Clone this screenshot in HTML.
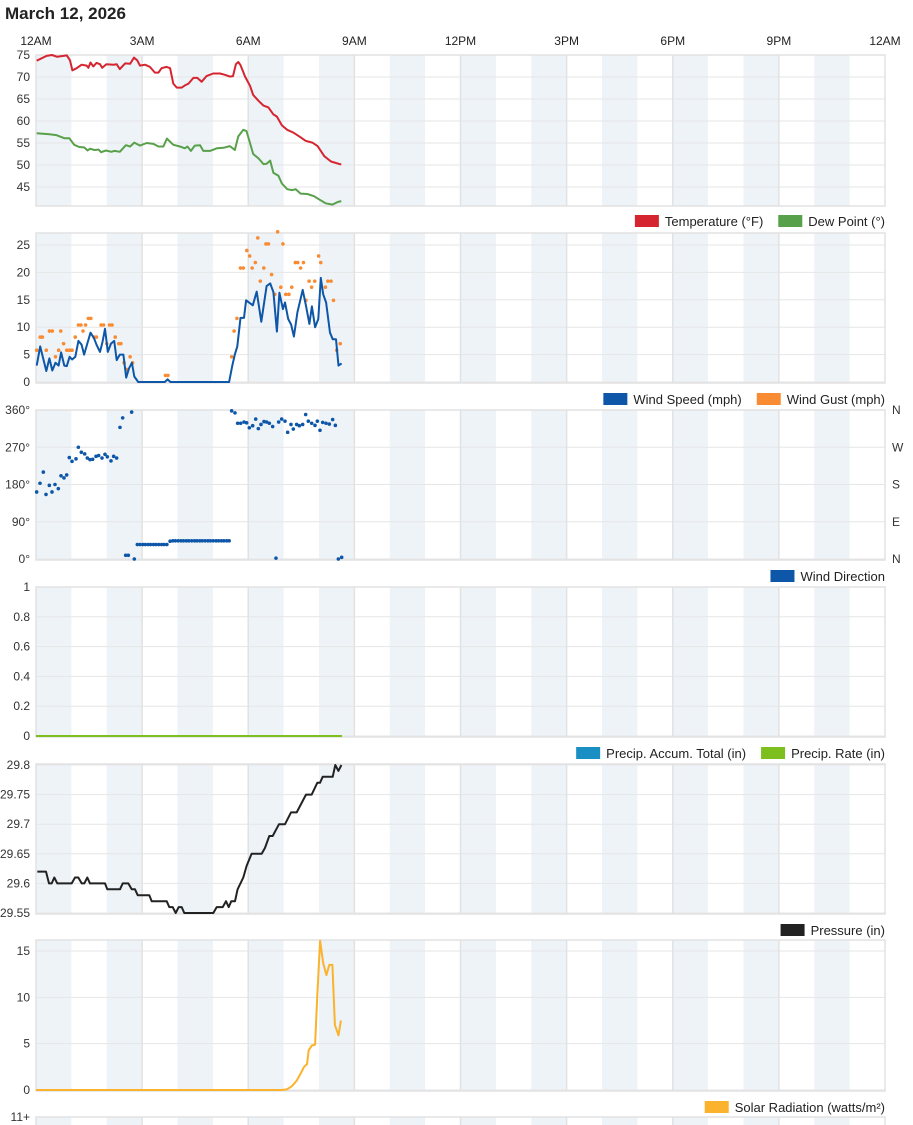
<!DOCTYPE html>
<html><head><meta charset="utf-8"><style>
html,body{margin:0;padding:0;background:#fff;width:913px;height:1125px;overflow:hidden}
svg{display:block;font-family:"Liberation Sans",sans-serif}
</style></head><body>
<svg id="c" width="913" height="1125" viewBox="0 0 913 1125">
<text x="5" y="19" font-size="17" font-weight="bold" fill="#222">March 12, 2026</text>
</svg>
<script>
const xHourLabels=["12AM","3AM","6AM","9AM","12PM","3PM","6PM","9PM","12AM"];
const tempT=[0.02,0.3,0.45,0.6,0.87,0.96,1.03,1.15,1.29,1.43,1.48,1.54,1.62,1.71,1.81,1.87,1.99,2.19,2.28,2.37,2.52,2.66,2.77,2.86,2.94,3.08,3.22,3.36,3.46,3.55,3.69,3.79,3.88,3.98,4.12,4.21,4.31,4.45,4.56,4.68,4.82,5.01,5.2,5.34,5.48,5.57,5.65,5.72,5.78,5.91,6.05,6.14,6.29,6.43,6.57,6.71,6.81,6.95,7.1,7.29,7.48,7.62,7.81,7.96,8.15,8.34,8.63];
const tempV=[73.7,74.8,75,74.6,74.9,73.8,71.5,72,72.8,72.6,72.1,73.3,72.4,73.2,72.9,72.1,72.9,72.8,72.9,71.8,73.1,73,74.4,73.8,72.6,72.8,72.3,71,71,72,72.3,72,68.5,67.6,67.6,68.1,68.5,69.8,69.8,68.9,70.2,70.8,70.8,70.5,70.1,70.2,72.9,73.4,72.7,70.1,68,65.9,64.6,63.5,63.1,61.5,61,59,58,57.3,56.3,55.5,55.1,54.3,52,50.8,50.1];
const dewT=[0.02,0.38,0.57,0.8,0.94,1.08,1.22,1.36,1.46,1.53,1.65,1.77,1.84,1.98,2.13,2.22,2.37,2.54,2.66,2.78,2.94,3.13,3.32,3.46,3.6,3.7,3.88,4.07,4.21,4.28,4.38,4.49,4.64,4.73,4.92,5.11,5.3,5.48,5.62,5.72,5.86,5.95,6.05,6.14,6.29,6.43,6.52,6.62,6.71,6.85,6.95,7.1,7.24,7.34,7.48,7.67,7.86,8.0,8.19,8.38,8.53,8.63];
const dewV=[57.2,57,56.8,56.1,56.1,54.6,54.1,54,53.3,53.7,53.4,53.5,52.9,53.3,53,53.2,53,54.5,54.2,55.1,54.4,55,54.8,54.2,54.2,56,54.6,54.2,53.8,54.2,53.2,54.4,54.5,53.2,53.2,53.8,53.9,54.3,53.4,56.5,58,57.7,55,52.5,51.5,50.2,50.3,51,48.2,47.6,45.8,44.5,44.3,44.5,43.5,43.4,42.9,42.2,41.3,41,41.6,41.8];
const windT=[0.02,0.12,0.29,0.38,0.46,0.55,0.64,0.71,0.8,0.87,0.95,1.02,1.11,1.2,1.29,1.36,1.45,1.54,1.64,1.71,1.81,1.88,1.95,2.03,2.12,2.21,2.28,2.37,2.47,2.55,2.63,2.71,2.78,2.89,3.64,3.72,3.8,5.46,5.55,5.62,5.69,5.78,5.88,5.94,6.13,6.24,6.37,6.52,6.62,6.71,6.81,6.88,6.98,7.04,7.13,7.21,7.29,7.39,7.54,7.63,7.73,7.8,7.89,7.98,8.05,8.12,8.2,8.31,8.39,8.48,8.55,8.64];
const windV=[3,6.5,2,4.3,2.1,3.5,3,5.4,3,2.9,4.6,4.1,4.6,7.5,6.8,5,7,9,8,6.8,5.5,7.3,9.7,5.5,7,7.5,4,5,5,0.8,2.5,3.5,1,0,0,0.5,0,0,3,5,6.5,11.7,11.7,14.9,14,16.5,11,17.5,18,16.4,9.2,16.3,13.3,14.5,11.5,10.5,8.3,12.7,16.8,14,10.6,13.8,10,11.5,19,16,14.5,9,7.8,7.8,3,3.4];
const gustT=[0.02,0.12,0.18,0.29,0.38,0.46,0.55,0.64,0.7,0.78,0.87,0.95,1.02,1.11,1.2,1.27,1.33,1.4,1.48,1.55,1.64,1.71,1.84,1.91,2.0,2.08,2.15,2.24,2.34,2.4,2.49,2.57,2.66,2.73,3.66,3.73,5.53,5.6,5.68,5.78,5.86,5.96,6.04,6.11,6.2,6.27,6.34,6.44,6.5,6.57,6.66,6.75,6.83,6.92,6.98,7.06,7.15,7.23,7.33,7.4,7.48,7.56,7.63,7.72,7.79,7.88,7.99,8.05,8.18,8.25,8.34,8.41,8.5,8.6];
const gustV=[5.8,8.2,8.2,5.8,9.3,9.3,4.6,5.8,9.3,7,5.8,5.8,5.8,8.2,10.4,10.4,9.3,10.4,11.6,11.6,8.2,8.2,10.4,10.4,7,10.4,10.4,8.2,7,7,3.5,2.3,4.6,3.5,1.2,1.2,4.6,9.3,11.6,20.8,20.8,24,23,20.8,21.8,26.3,18.4,20.8,25.2,25.2,19.6,16,27.4,17.3,25.2,16,16,17.3,21.8,21.8,20.8,21.8,14.9,18.4,17.3,18.4,23,21.8,17.3,18.4,18.4,14.9,5.8,7];
const dirT=[0.019,0.113,0.207,0.283,0.377,0.452,0.537,0.631,0.707,0.791,0.867,0.942,1.018,1.131,1.197,1.281,1.376,1.451,1.526,1.602,1.696,1.771,1.866,1.95,2.016,2.12,2.195,2.28,2.374,2.45,2.535,2.61,2.704,2.779,
2.864,2.94,3.02,3.09,3.17,3.24,3.32,3.39,3.47,3.55,3.62,3.70,
3.79,3.87,3.94,4.02,4.10,4.17,4.25,4.32,4.40,4.48,4.55,4.63,4.70,4.78,4.86,4.93,5.01,5.09,5.16,5.24,5.31,5.39,5.46,
5.531,5.625,5.7,5.786,5.88,5.955,6.03,6.125,6.21,6.285,6.36,6.445,6.52,6.596,6.69,6.784,6.86,6.945,7.039,7.114,7.208,7.274,7.368,7.444,7.538,7.623,7.698,7.793,7.887,7.953,8.028,8.104,8.198,8.292,8.386,8.462,8.547,8.641];
const dirV=[162,183,210,156,178,162,180,170,201,196,203,245,236,242,270,258,254,244,240,241,248,250,244,253,247,237,248,244,318,341,9,9,355,0,
35,35,35,35,35,35,35,35,35,35,35,35,
43,44,44,44,44,44,44,44,44,44,44,44,44,44,44,44,44,44,44,44,44,44,44,
358,353,328,328,331,329,317,322,338,315,325,332,331,328,320,2,331,338,333,306,325,314,325,322,325,349,333,328,323,333,311,330,328,326,337,323,0,4];
const precipT=[0,8.65];
const precipV=[0,0];
const presT=[0.038,0.283,0.367,0.443,0.518,0.603,1.008,1.102,1.197,1.291,1.366,1.451,1.526,1.95,2.016,2.374,2.45,2.61,2.704,2.798,2.874,3.204,3.27,3.694,3.769,3.863,3.948,4.033,4.118,4.193,5.013,5.107,5.277,5.371,5.446,5.522,5.625,5.7,5.861,5.955,6.096,6.379,6.473,6.596,6.69,6.869,7.039,7.208,7.369,7.632,7.793,7.953,8.028,8.104,8.387,8.462,8.547,8.632];
const presV=[29.62,29.62,29.60,29.60,29.61,29.60,29.60,29.61,29.61,29.60,29.60,29.61,29.60,29.60,29.59,29.59,29.60,29.60,29.59,29.59,29.58,29.58,29.57,29.57,29.56,29.56,29.55,29.56,29.56,29.55,29.55,29.56,29.56,29.57,29.56,29.57,29.57,29.59,29.61,29.63,29.65,29.65,29.66,29.68,29.68,29.70,29.70,29.72,29.72,29.75,29.75,29.77,29.77,29.78,29.78,29.80,29.79,29.80];
const solarT=[0,6.94,7.09,7.23,7.37,7.51,7.58,7.66,7.71,7.8,7.89,7.95,8.03,8.12,8.21,8.29,8.38,8.45,8.55,8.62];
const solarV=[0,0,0.07,0.4,1,2,2.5,2.8,4.3,4.8,4.9,10,16.1,13.7,12.4,13.5,13.5,7,5.9,7.5];

const NS="http://www.w3.org/2000/svg";
const svg=document.getElementById('c');
const X0=36,X1=885;
function xS(h){return X0+h*(X1-X0)/24;}
function mk(tag,attrs,parent){const e=document.createElementNS(NS,tag);for(const k in attrs)e.setAttribute(k,attrs[k]);(parent||svg).appendChild(e);return e;}
function yScale(v0,p0,v1,p1){return v=>p0+(v-v0)*(p1-p0)/(v1-v0);}

xHourLabels.forEach((l,i)=>{const t=mk('text',{x:xS(i*3),y:45,'font-size':12,'text-anchor':'middle',fill:'#222'});t.textContent=l;

});

function panel(name,top,bot,ticks,ys,fmt){
  const g=mk('g',{});
  
  
  for(let h=0;h<24;h+=2){const r=mk('rect',{x:xS(h),y:top,width:xS(h+1)-xS(h),height:bot-top,fill:'#eef3f8'},g);
    
    }
  ticks.forEach(v=>{const y=ys(v);const l=mk('line',{x1:X0,x2:X1,y1:y,y2:y,stroke:'#e6e6e6','stroke-width':1},g);
    
    
    const t=mk('text',{x:30,y:y+4,'font-size':12,'text-anchor':'end',fill:'#333'},g);t.textContent=fmt?fmt(v):v;
    
    });
  for(let h=3;h<24;h+=3){const l=mk('line',{x1:xS(h),x2:xS(h),y1:top,y2:bot,stroke:'#e2e2e2','stroke-width':1.5},g);
    
    }
  const b=mk('rect',{x:X0,y:top,width:X1-X0,height:bot-top,fill:'none',stroke:'#e2e2e2','stroke-width':1.5},g);
  
  
  return g;
}
function line(T,V,ys,color,name,w){const d=T.map((t,i)=>(i?'L':'M')+xS(t).toFixed(1)+','+ys(V[i]).toFixed(1)).join('');
  const p=mk('path',{d:d,fill:'none',stroke:color,'stroke-width':w||2,'stroke-linejoin':'round'});
  
  }
function dots(T,V,ys,color,name){T.forEach((t,i)=>{const c=mk('circle',{cx:xS(t),cy:ys(V[i]),r:1.8,fill:color});
  
  });}
function legend(y,items){let x=X1;for(let i=items.length-1;i>=0;i--){const [lab,col]=items[i];
  const t=mk('text',{x:x,y:y+5,'font-size':13,'text-anchor':'end',fill:'#222'});t.textContent=lab;
  
  
  const w=t.getComputedTextLength();
  const r=mk('rect',{x:x-w-30,y:y-6,width:24,height:12,fill:col});
  
  
  x=x-w-45;}}

const y1=yScale(45,187,75,55);
panel('temperature',55,206,[75,70,65,60,55,50,45],y1);
line(tempT,tempV,y1,'#d42530','temperature-line');
line(dewT,dewV,y1,'#58a04a','dew-point-line');
legend(221,[['Temperature (°F)','#d42530'],['Dew Point (°)','#58a04a']]);

const y2=yScale(0,382,25,245);
panel('wind',233,383,[0,5,10,15,20,25],y2);
dots(gustT,gustV,y2,'#f98c32','wind-gust-point');
line(windT,windV,y2,'#0d56a8','wind-speed-line');
legend(399,[['Wind Speed (mph)','#0d56a8'],['Wind Gust (mph)','#f98c32']]);

const y3=yScale(0,559,360,410);
panel('wind-direction',410,560,[0,90,180,270,360],y3,v=>v+'°');
['N','E','S','W','N'].forEach((l,i)=>{const t=mk('text',{x:892,y:y3(i*90)+4,'font-size':12,fill:'#333'});t.textContent=l;
  
  });
dots(dirT,dirV,y3,'#0d56a8','wind-direction-point');
legend(576,[['Wind Direction','#0d56a8']]);

const y4=yScale(0,736,1,587);
panel('precipitation',587,737,[0,0.2,0.4,0.6,0.8,1],y4);
line(precipT,precipV,y4,'#7cbf1e','precip-rate-line');
legend(753,[['Precip. Accum. Total (in)','#1a8fc4'],['Precip. Rate (in)','#7cbf1e']]);

const y5=yScale(29.55,913,29.8,765);
panel('pressure',764,914,[29.55,29.6,29.65,29.7,29.75,29.8],y5,v=>String(+v.toFixed(2)));
line(presT,presV,y5,'#222','pressure-line');
legend(930,[['Pressure (in)','#222']]);

const y6=yScale(0,1090,15,951);
panel('solar',940,1091,[0,5,10,15],y6);
line(solarT,solarV,y6,'#fbb22c','solar-radiation-line');
legend(1107,[['Solar Radiation (watts/m²)','#fbb22c']]);

panel('uv',1117,1126,[],y6);
const t7=mk('text',{x:30,y:1121,'font-size':12,'text-anchor':'end',fill:'#333'});t7.textContent='11+';


</script>
</body></html>
